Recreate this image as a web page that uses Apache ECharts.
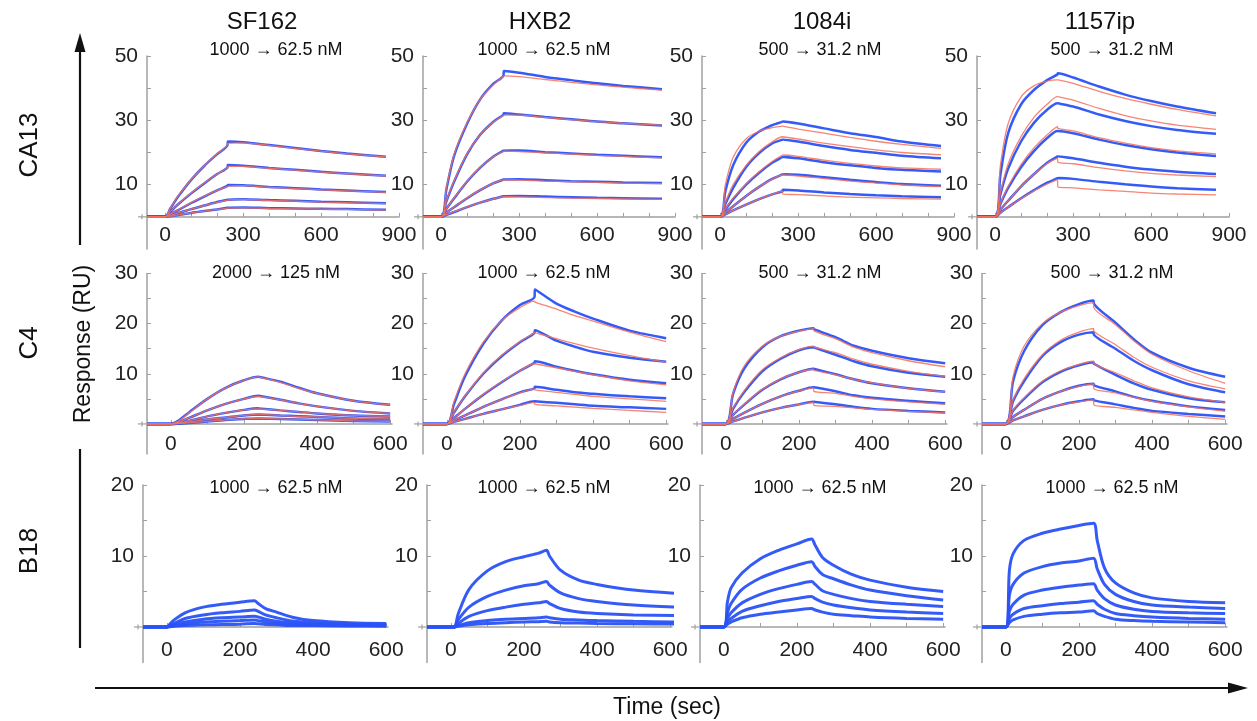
<!DOCTYPE html>
<html>
<head>
<meta charset="utf-8">
<script src="https://cdn.jsdelivr.net/npm/echarts@6/dist/echarts.min.js"></script>
<style>html,body{margin:0;padding:0;background:#fff;}#c{width:1257px;height:721px;}</style>
</head>
<body>
<div id="c"></div>
<script>
// ---------- categories ----------
const columns = ['SF162', 'HXB2', '1084i', '1157ip'];
const rows = ['CA13', 'C4', 'B18'];
const concCA13 = ['1000 \u2192 62.5 nM', '1000 \u2192 62.5 nM', '500 \u2192 31.2 nM', '500 \u2192 31.2 nM'];
const concC4 = ['2000 \u2192 125 nM', '1000 \u2192 62.5 nM', '500 \u2192 31.2 nM', '500 \u2192 31.2 nM'];
const concB18 = ['1000 \u2192 62.5 nM', '1000 \u2192 62.5 nM', '1000 \u2192 62.5 nM', '1000 \u2192 62.5 nM'];

// ---------- tick labels ----------
const xTicksR1 = [0, 100, 200, 300, 400, 500, 600, 700, 800, 900];
const xLabelsR1 = [0, 300, 600, 900];
const xTicksR23 = [0, 100, 200, 300, 400, 500, 600];
const xLabelsR23 = [0, 200, 400, 600];
const yTicksR1 = [0, 10, 20, 30, 40, 50];
const yLabelsR1 = [10, 30, 50];
const yTicksR2 = [0, 5, 10, 15, 20, 25, 30];
const yLabelsR2 = [10, 20, 30];
const yTicksR3 = [0, 5, 10, 15, 20];
const yLabelsR3 = [10, 20];

// ---------- time points (sec) ----------
const timeR1 = [-70, 0, 20, 50, 100, 150, 200, 240, 241, 300, 400, 500, 600, 700, 850];
const timeR2 = [-65, 0, 20, 50, 100, 150, 200, 240, 241, 300, 350, 400, 500, 600];
const timeR3 = [-65, 0, 10, 20, 50, 100, 150, 200, 240, 250, 270, 300, 350, 400, 500, 600];
const timeR3HXB2 = [-65, 0, 10, 20, 50, 100, 150, 200, 240, 262, 270, 300, 350, 400, 500, 625];

// ---------- CA13 (response, RU) ----------
const blueCA13_SF162 = [
  [0,0,2.6,6.3,11.5,15.8,19.5,22.3,23.4,23.2,22.3,21.4,20.5,19.7,18.7],
  [0,0,1.6,3.9,7.3,10.4,13.3,15.4,16.1,15.9,15.2,14.6,14.0,13.5,12.8],
  [0,0,0.9,2.1,4.3,6.3,8.2,9.6,9.9,9.8,9.3,8.9,8.5,8.2,7.7],
  [0,0,0.5,1.2,2.4,3.5,4.6,5.3,5.5,5.5,5.2,5.0,4.7,4.5,4.2],
  [0,0,0.2,0.6,1.2,1.8,2.3,2.8,2.9,2.9,2.7,2.6,2.5,2.4,2.2]
];
const redCA13_SF162 = [
  [0,0,2.8,6.5,11.6,15.9,19.6,22.3,22.8,23.0,22.2,21.3,20.4,19.6,18.6],
  [0,0,1.7,4.0,7.4,10.5,13.3,15.3,15.7,15.7,15.1,14.5,13.9,13.4,12.7],
  [0,0,0.9,2.2,4.4,6.4,8.2,9.5,9.7,9.7,9.2,8.8,8.4,8.1,7.6],
  [0,0,0.5,1.2,2.4,3.5,4.5,5.2,5.4,5.4,5.1,4.9,4.6,4.4,4.1],
  [0,0,0.2,0.6,1.2,1.8,2.3,2.7,2.8,2.8,2.6,2.5,2.4,2.3,2.1]
];
const blueCA13_HXB2 = [
  [0,0,8.5,19.0,29.0,36.5,41.3,44.0,45.3,44.8,43.5,42.5,41.5,40.7,39.7],
  [0,0,4.8,11.0,19.5,25.5,29.5,31.8,32.2,31.8,31.0,30.3,29.6,29.1,28.4],
  [0,0,2.5,5.8,11.0,15.3,18.7,20.6,20.8,20.6,20.1,19.7,19.3,19.0,18.5],
  [0,0,1.3,3.0,5.8,8.3,10.4,11.6,11.8,11.7,11.4,11.1,10.9,10.7,10.5],
  [0,0,0.6,1.5,3.0,4.4,5.6,6.4,6.6,6.5,6.3,6.1,5.9,5.8,5.6]
];
const redCA13_HXB2 = [
  [0,0,9.0,19.5,29.3,36.5,41.0,43.8,44.0,43.6,42.7,41.8,41.0,40.3,39.4],
  [0,0,5.0,11.3,19.7,25.5,29.4,31.6,31.8,31.6,30.9,30.2,29.6,29.1,28.5],
  [0,0,2.5,5.9,11.1,15.4,18.6,20.4,20.5,20.3,19.9,19.5,19.1,18.8,18.3],
  [0,0,1.3,3.0,5.9,8.4,10.4,11.5,11.5,11.4,11.1,10.9,10.7,10.5,10.3],
  [0,0,0.7,1.6,3.1,4.4,5.5,6.3,6.3,6.2,6.0,5.8,5.7,5.6,5.4]
];
const blueCA13_1084i = [
  [0,0,8.0,16.0,23.0,26.5,28.5,29.6,29.8,29.0,27.5,26.0,24.8,23.4,22.0],
  [0,0,4.0,9.0,15.5,19.8,22.8,24.0,24.1,23.4,22.0,20.8,19.9,19.0,18.2],
  [0,0,2.3,5.5,10.0,13.7,16.8,18.6,18.7,18.2,17.0,16.0,15.2,14.6,14.1],
  [0,0,1.4,3.3,6.5,9.3,11.8,13.2,13.4,13.1,12.3,11.5,10.8,10.2,9.7],
  [0,0,0.8,2.0,3.8,5.5,7.0,8.0,8.4,8.2,7.6,7.1,6.7,6.4,6.1]
];
const redCA13_1084i = [
  [0,0,10.0,18.5,24.3,26.6,27.7,28.2,28.0,27.3,26.0,24.7,23.5,22.5,21.3],
  [0,0,4.5,10.0,16.0,20.3,23.3,24.9,24.9,24.2,22.9,21.8,20.8,20.0,19.3],
  [0,0,2.5,5.8,10.3,14.0,17.2,19.2,19.3,18.8,17.6,16.6,15.8,15.2,14.8],
  [0,0,1.4,3.3,6.5,9.3,11.7,13.0,13.0,12.7,11.9,11.1,10.5,9.9,9.4],
  [0,0,0.8,2.0,3.8,5.5,7.0,8.0,7.1,6.9,6.5,6.1,5.9,5.7,5.5]
];
const blueCA13_1157ip = [
  [0,0,13.0,26.0,35.0,39.5,42.5,44.3,44.6,43.3,40.5,38.0,36.0,34.3,32.2],
  [0,0,7.0,15.0,23.5,29.3,33.3,35.3,35.3,34.3,31.8,29.8,28.2,27.0,25.8],
  [0,0,4.0,9.0,15.5,20.5,24.5,26.7,26.7,26.0,24.0,22.3,21.0,20.0,18.9],
  [0,0,2.2,5.0,9.5,13.3,16.8,18.8,18.9,18.2,16.8,15.6,14.7,14.0,13.3],
  [0,0,1.3,3.0,5.8,8.3,10.6,12.0,12.2,11.8,10.9,10.1,9.4,8.9,8.4]
];
const redCA13_1157ip = [
  [0,0,16.0,29.0,37.3,40.8,42.2,42.6,42.5,41.5,39.0,36.8,35.0,33.4,31.4],
  [0,0,7.5,16.5,25.0,31.0,35.0,37.4,37.3,36.3,33.7,31.5,29.8,28.5,27.2],
  [0,0,4.2,9.5,16.3,21.5,25.5,28.0,27.5,26.7,24.6,22.9,21.5,20.5,19.6],
  [0,0,2.2,5.0,9.5,13.3,16.6,18.2,17.0,16.5,15.3,14.3,13.5,13.0,12.5],
  [0,0,1.3,3.0,5.7,8.1,10.2,11.5,9.3,9.0,8.4,7.9,7.4,7.1,6.8]
];

// ---------- C4 ----------
const blueC4_SF162 = [
  [0,0,0.6,2.3,5.0,7.2,8.7,9.4,9.3,8.4,7.2,6.1,4.6,3.8],
  [0,0,0.3,1.2,2.7,4.0,5.0,5.6,5.5,4.8,4.1,3.5,2.6,2.1],
  [0,0,0.2,0.6,1.5,2.2,2.8,3.1,3.0,2.7,2.4,2.1,1.7,1.5],
  [0,0,0.1,0.4,0.9,1.3,1.7,1.9,1.9,1.7,1.55,1.4,1.1,1.0],
  [0,0,0.05,0.2,0.5,0.8,1.0,1.1,1.1,1.0,0.9,0.8,0.6,0.5]
];
const redC4_SF162 = [
  [0,0,0.5,2.2,5.0,7.2,8.7,9.4,9.3,8.3,7.1,6.1,4.6,3.8],
  [0,0,0.3,1.2,2.7,4.0,5.0,5.5,5.4,4.8,4.1,3.5,2.6,2.1],
  [0,0,0.2,0.6,1.5,2.2,2.8,3.0,3.0,2.7,2.4,2.1,1.7,1.5],
  [0,0,0.1,0.4,0.9,1.3,1.7,1.9,1.8,1.7,1.5,1.4,1.1,1.0],
  [0,0,0.05,0.2,0.5,0.8,1.0,1.1,1.1,1.0,0.9,0.8,0.6,0.5]
];
const blueC4_HXB2 = [
  [0,0,4.0,9.5,16.0,20.6,23.7,25.3,26.8,24.0,22.4,21.0,18.6,17.1],
  [0,0,2.3,5.5,10.0,13.5,16.3,18.2,18.7,16.6,15.4,14.4,13.2,12.4],
  [0,0,1.2,3.0,5.8,8.3,10.6,12.2,12.5,11.4,10.6,9.9,8.8,8.1],
  [0,0,0.7,1.7,3.4,4.9,6.3,7.1,7.4,6.8,6.3,6.0,5.5,5.1],
  [0,0,0.4,1.0,2.0,2.9,3.8,4.5,4.5,4.2,3.9,3.6,3.3,3.0]
];
const redC4_HXB2 = [
  [0,0,4.5,10.0,16.3,20.6,23.2,24.5,24.3,22.9,21.6,20.5,18.3,16.4],
  [0,0,2.4,5.6,10.2,13.7,16.4,18.2,18.3,17.0,16.0,15.1,13.6,12.3],
  [0,0,1.2,3.0,5.9,8.4,10.6,12.0,12.0,11.2,10.5,9.8,8.6,7.8],
  [0,0,0.7,1.7,3.4,4.9,6.2,7.0,6.8,6.3,5.9,5.5,5.0,4.5],
  [0,0,0.4,1.0,2.0,2.9,3.7,4.3,3.9,3.6,3.35,3.1,2.7,2.3]
];
const blueC4_1084i = [
  [0,0,6.0,11.0,15.3,17.5,18.6,19.1,18.9,17.3,15.6,14.6,13.1,12.1],
  [0,0,3.0,6.3,10.5,13.0,14.7,15.3,15.2,13.8,12.5,11.5,10.2,9.4],
  [0,0,1.8,3.8,6.8,8.9,10.3,11.0,10.9,9.9,8.9,8.1,7.1,6.4],
  [0,0,1.0,2.2,4.0,5.5,6.6,7.3,7.2,6.5,5.7,5.2,4.6,4.1],
  [0,0,0.5,1.2,2.3,3.2,3.9,4.4,4.3,3.9,3.4,3.0,2.6,2.3]
];
const redC4_1084i = [
  [0,0,6.3,11.5,15.5,17.5,18.5,19.0,18.6,17.0,15.3,14.2,12.6,11.4],
  [0,0,3.2,6.6,10.8,13.2,14.8,15.5,15.3,14.2,12.9,11.9,10.5,9.5],
  [0,0,1.8,3.9,6.9,9.0,10.3,10.9,10.7,9.8,8.9,8.2,7.1,6.4],
  [0,0,1.0,2.2,4.0,5.5,6.6,7.2,6.5,6.1,5.5,5.0,4.4,3.9],
  [0,0,0.5,1.2,2.3,3.2,3.9,4.3,3.7,3.5,3.2,2.9,2.5,2.2]
];
const blueC4_1157ip = [
  [0,0,8.5,14.5,19.7,22.3,23.9,24.6,24.0,20.2,16.9,14.2,11.2,9.4],
  [0,0,4.5,8.5,13.5,16.3,17.8,18.3,17.8,15.0,12.6,10.7,7.9,6.3],
  [0,0,2.6,5.0,8.3,10.4,11.7,12.3,12.0,9.8,8.1,6.8,5.1,4.3],
  [0,0,1.4,2.8,5.0,6.5,7.6,8.0,7.7,6.5,5.4,4.6,3.5,2.8],
  [0,0,0.7,1.5,2.8,3.8,4.5,4.9,4.7,3.9,3.2,2.6,2.0,1.5]
];
const redC4_1157ip = [
  [0,0,9.5,15.5,20.0,22.3,23.6,24.2,23.2,19.8,16.6,13.9,10.6,8.1],
  [0,0,4.8,9.0,13.8,16.7,18.3,19.0,18.5,15.8,13.3,11.3,8.6,7.0],
  [0,0,2.7,5.2,8.5,10.6,11.9,12.5,12.0,10.2,8.6,7.2,5.4,4.3],
  [0,0,1.4,2.8,5.0,6.5,7.5,8.0,7.0,6.2,5.3,4.5,3.4,2.5],
  [0,0,0.7,1.5,2.8,3.8,4.4,4.8,3.8,3.3,2.8,2.3,1.5,0.9]
];

// ---------- B18 (no fits) ----------
const blueB18_SF162 = [
  [0,0,0.5,1.0,2.0,2.8,3.2,3.5,3.7,3.3,2.6,2.1,1.3,0.9,0.6,0.5],
  [0,0,0.3,0.5,1.2,1.7,2.0,2.2,2.4,2.2,1.7,1.3,0.8,0.6,0.4,0.3],
  [0,0,0.15,0.3,0.7,1.1,1.3,1.4,1.5,1.4,1.1,0.8,0.55,0.4,0.3,0.2],
  [0,0,0.1,0.2,0.4,0.7,0.8,0.9,1.0,0.9,0.7,0.5,0.35,0.3,0.2,0.2],
  [0,0,0.05,0.1,0.2,0.3,0.35,0.4,0.5,0.45,0.35,0.3,0.2,0.2,0.15,0.1]
];
const blueB18_HXB2 = [
  [0,0,0,1.8,5.3,7.9,9.2,9.9,10.4,10.8,10.0,8.0,6.6,6.0,5.2,4.7],
  [0,0,0,1.0,2.8,4.3,5.2,5.8,6.1,6.4,5.9,4.8,4.0,3.6,3.1,2.8],
  [0,0,0,0.5,1.5,2.3,2.8,3.2,3.4,3.6,3.3,2.6,2.1,1.9,1.7,1.6],
  [0,0,0,0.2,0.6,0.9,1.1,1.2,1.3,1.4,1.3,1.1,1.0,0.9,0.8,0.7],
  [0,0,0,0.1,0.3,0.5,0.6,0.7,0.75,0.8,0.7,0.6,0.55,0.5,0.45,0.4]
];
const blueB18_1084i = [
  [0,0,3.5,5.5,7.6,9.6,10.8,11.7,12.4,11.5,9.8,8.7,7.4,6.6,5.6,5.0],
  [0,0,2.0,3.3,5.3,6.9,7.9,8.7,9.2,8.5,7.4,6.8,5.9,5.2,4.4,3.8],
  [0,0,1.2,2.0,3.4,4.6,5.4,6.0,6.4,6.0,5.1,4.6,4.0,3.6,3.2,2.9],
  [0,0,0.7,1.2,2.2,3.0,3.6,4.0,4.3,4.0,3.5,3.1,2.7,2.4,2.1,1.9],
  [0,0,0.4,0.7,1.3,1.8,2.1,2.4,2.6,2.4,2.1,1.8,1.6,1.4,1.2,1.1]
];
const blueB18_1157ip = [
  [0,0,8.0,10.3,12.2,13.2,13.8,14.3,14.6,12.2,8.3,6.2,4.8,4.1,3.6,3.4],
  [0,0,4.5,6.0,7.6,8.5,9.0,9.3,9.7,8.2,6.0,4.6,3.6,3.1,2.8,2.6],
  [0,0,2.2,3.2,4.5,5.2,5.6,5.9,6.1,5.2,4.0,3.1,2.5,2.2,2.0,1.9],
  [0,0,1.2,1.8,2.6,3.0,3.3,3.5,3.7,3.2,2.5,1.9,1.6,1.4,1.2,1.1],
  [0,0,0.6,1.0,1.5,1.8,2.0,2.1,2.3,1.9,1.5,1.1,0.9,0.8,0.7,0.6]
];

// ---------- layout (positions / styles) ----------
const FONT_NUM = '"Liberation Sans", Arial, sans-serif';
const BLUE = '#2a52f7';
const RED = '#f4705c';
const AXIS = '#a0a0a0';
const rowGeom = [
  { top: 56, height: 193, ymin: -10, ymax: 50, yTicks: yTicksR1, yLabels: yLabelsR1, xMargin: 8,
    xmin: -70, xmax: 900, xTicks: xTicksR1, xLabels: xLabelsR1, width: 252, lefts: [147, 423, 702, 977] },
  { top: 273.5, height: 180.5, ymin: -6, ymax: 30, yTicks: yTicksR2, yLabels: yLabelsR2, xMargin: 10,
    xmin: -65, xmax: 605, xTicks: xTicksR23, xLabels: xLabelsR23, width: 245, lefts: [147, 423, 702, 982] },
  { top: 485, height: 177.5, ymin: -5, ymax: 20, yTicks: yTicksR3, yLabels: yLabelsR3, xMargin: 13,
    xmin: -65, xmax: 605, xTicks: xTicksR23, xLabels: xLabelsR23, width: 245, lefts: [143, 427, 700, 982] }
];
const panelBlue = [
  [blueCA13_SF162, blueCA13_HXB2, blueCA13_1084i, blueCA13_1157ip],
  [blueC4_SF162, blueC4_HXB2, blueC4_1084i, blueC4_1157ip],
  [blueB18_SF162, blueB18_HXB2, blueB18_1084i, blueB18_1157ip]
];
const panelRed = [
  [redCA13_SF162, redCA13_HXB2, redCA13_1084i, redCA13_1157ip],
  [redC4_SF162, redC4_HXB2, redC4_1084i, redC4_1157ip],
  null
];
const panelTime = [
  [timeR1, timeR1, timeR1, timeR1],
  [timeR2, timeR2, timeR2, timeR2],
  [timeR3, timeR3HXB2, timeR3, timeR3]
];
const concByRow = [concCA13, concC4, concB18];
const titleX = [262, 540, 822, 1100];
const concX = [276, 544, 820, 1112];
const concY = [50, 273, 488];

function pairs(t, v) { return t.map((x, i) => [x, v[i]]); }

const graphic = [];
const grid = [], xAxis = [], yAxis = [], series = [];
let gi = 0;
rowGeom.forEach((g, r) => {
  // distance (px) from the bottom of the grid up to the value 0
  const zeroLift = g.height * (0 - g.ymin) / (g.ymax - g.ymin);
  g.lefts.forEach((left, c) => {
    grid.push({ left: left, top: g.top, width: g.width, height: g.height, containLabel: false });
    xAxis.push({
      gridIndex: gi, type: 'value', min: g.xmin, max: g.xmax, position: 'bottom', offset: -zeroLift,
      axisLine: { show: true, onZero: false, lineStyle: { color: AXIS, width: 1.5 } },
      axisTick: { show: true, inside: true, length: 4, customValues: g.xTicks, lineStyle: { color: AXIS } },
      axisLabel: { show: true, customValues: g.xLabels, fontSize: 21, fontFamily: FONT_NUM, color: '#222', margin: g.xMargin },
      splitLine: { show: false }
    });
    yAxis.push({
      gridIndex: gi, type: 'value', min: g.ymin, max: g.ymax,
      axisLine: { show: true, onZero: false, lineStyle: { color: AXIS, width: 1.5 } },
      axisTick: { show: true, inside: true, length: 4, customValues: g.yTicks, lineStyle: { color: AXIS } },
      axisLabel: { show: true, customValues: g.yLabels, fontSize: 21, fontFamily: FONT_NUM, color: '#222', margin: 9 },
      splitLine: { show: false }
    });
    // small outward baseline mark left of the y axis (axis decoration)
    const zy = g.top + g.height - zeroLift;
    graphic.push({ type: 'line', silent: true, shape: { x1: left - 9, y1: zy, x2: left, y2: zy }, style: { stroke: AXIS, lineWidth: 1.2 } });
    graphic.push({ type: 'line', silent: true, shape: { x1: left - 5, y1: zy - 2.5, x2: left - 5, y2: zy + 2.5 }, style: { stroke: AXIS, lineWidth: 1.2 } });
    const t = panelTime[r][c];
    panelBlue[r][c].forEach(v => {
      series.push({
        type: 'line', xAxisIndex: gi, yAxisIndex: gi, data: pairs(t, v),
        showSymbol: false, smooth: 0.3, silent: true, z: 2,
        lineStyle: { color: BLUE, width: r === 2 ? 3 : 2.5, opacity: 0.95 }
      });
    });
    if (panelRed[r]) {
      panelRed[r][c].forEach(v => {
        series.push({
          type: 'line', xAxisIndex: gi, yAxisIndex: gi, data: pairs(t, v),
          showSymbol: false, smooth: 0.3, silent: true, z: 3,
          lineStyle: { color: RED, width: 1.3, opacity: 0.85 }
        });
      });
    }
    gi++;
  });
});

function txt(x, y, text, size, rot, family) {
  return {
    type: 'text', x: x, y: y, rotation: rot || 0, silent: true,
    style: { text: text, font: size + 'px ' + (family || FONT_NUM), fill: '#111',
      textAlign: 'center', textVerticalAlign: 'middle', align: 'center', verticalAlign: 'middle' }
  };
}
columns.forEach((name, c) => graphic.push(txt(titleX[c], 22, name, 24)));
concByRow.forEach((arr, r) => arr.forEach((s, c) => graphic.push(txt(concX[c], concY[r], s, 18))));
const rowY = [145, 343, 551];
rows.forEach((name, r) => graphic.push(txt(30, rowY[r], name, 26, Math.PI / 2)));
graphic.push(txt(84, 344, 'Response (RU)', 23, Math.PI / 2));
graphic.push(txt(667, 708, 'Time (sec)', 23));
graphic.push({ type: 'line', silent: true, shape: { x1: 80, y1: 245, x2: 80, y2: 50 }, style: { stroke: '#111', lineWidth: 2.2 } });
graphic.push({ type: 'polygon', silent: true, shape: { points: [[74.5, 52], [85.5, 52], [80, 33]] }, style: { fill: '#111' } });
graphic.push({ type: 'line', silent: true, shape: { x1: 80, y1: 449, x2: 80, y2: 648 }, style: { stroke: '#111', lineWidth: 2.2 } });
graphic.push({ type: 'line', silent: true, shape: { x1: 95, y1: 688, x2: 1230, y2: 688 }, style: { stroke: '#111', lineWidth: 2.2 } });
graphic.push({ type: 'polygon', silent: true, shape: { points: [[1228, 682.5], [1228, 693.5], [1248, 688]] }, style: { fill: '#111' } });

const chart = echarts.init(document.getElementById('c'), null, { renderer: 'canvas' });
chart.setOption({
  animation: false,
  backgroundColor: '#fff',
  grid: grid, xAxis: xAxis, yAxis: yAxis, series: series, graphic: graphic
});
</script>
</body>
</html>
